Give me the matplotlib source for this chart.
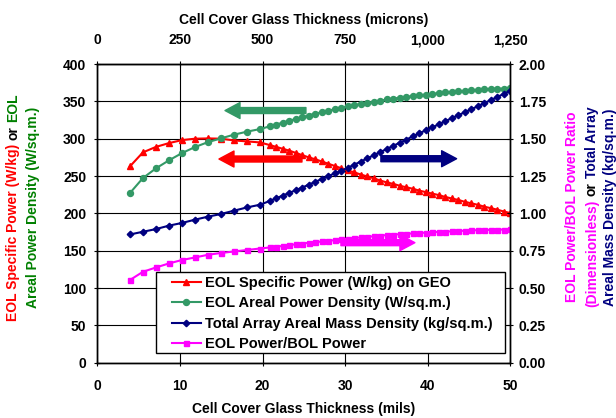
import numpy as np
import matplotlib.pyplot as plt
from matplotlib.patches import Rectangle
from matplotlib.ticker import MultipleLocator, FuncFormatter

plt.rcParams['font.family'] = ['Liberation Sans', 'DejaVu Sans']
plt.rcParams['font.weight'] = 'bold'
plt.rcParams['axes.labelweight'] = 'bold'
plt.rcParams['font.size'] = 10

# data: cover glass thickness (microns) and the four curves
thickness_um = [100, 140, 180, 220, 260, 300, 340, 380, 420, 460, 500,
                530, 550, 570, 590, 610, 630, 650, 670, 690, 710, 730, 750,
                770, 790, 810, 830, 850, 870, 890, 910, 930, 950, 970, 990,
                1010, 1030, 1050, 1070, 1090, 1110, 1130, 1150, 1170, 1190,
                1210, 1230, 1250, 1270]

specific_power = [262.9, 281.7, 289.0, 294.1, 298.1, 300.0, 300.4, 300.0, 297.7, 296.4, 295.0,
                  291.5, 289.0, 286.5, 284.0, 281.0, 278.0, 275.0, 272.5, 269.5, 266.5, 263.5, 260.5,
                  257.5, 255.0, 252.0, 249.5, 247.0, 244.0, 241.5, 239.5, 237.0, 235.0, 233.0, 230.5,
                  228.5, 226.5, 224.5, 222.0, 220.0, 218.0, 215.5, 213.5, 211.5, 209.0,
                  207.0, 205.0, 202.5, 200.5]

areal_power = [227.2, 247.3, 260.3, 271.0, 280.7, 288.8, 295.4, 300.4, 305.4, 309.4, 312.9,
               316.5, 319.0, 321.5, 324.0, 326.5, 329.0, 331.0, 333.5, 335.5, 337.5, 339.5, 341.5,
               343.5, 345.0, 346.5, 348.0, 349.5, 351.0, 352.5, 353.5, 355.0, 356.0, 357.0, 358.0,
               359.0, 360.0, 361.0, 362.0, 362.5, 363.5, 364.0, 365.0, 365.5, 366.0,
               366.5, 367.0, 367.0, 367.5]

mass_density = [0.859, 0.877, 0.895, 0.918, 0.936, 0.958, 0.978, 0.996, 1.018, 1.040, 1.058,
                1.083, 1.101, 1.119, 1.137, 1.155, 1.173, 1.192, 1.211, 1.230, 1.249, 1.268, 1.285,
                1.305, 1.326, 1.347, 1.368, 1.389, 1.410, 1.431, 1.452, 1.473, 1.494, 1.515, 1.536,
                1.556, 1.576, 1.596, 1.617, 1.637, 1.657, 1.677, 1.697, 1.717, 1.738,
                1.758, 1.779, 1.800, 1.820]

power_ratio = [0.554, 0.609, 0.638, 0.665, 0.688, 0.705, 0.723, 0.735, 0.745, 0.755, 0.765,
               0.772, 0.777, 0.782, 0.788, 0.793, 0.798, 0.803, 0.807, 0.812, 0.816, 0.821, 0.826,
               0.831, 0.835, 0.839, 0.843, 0.847, 0.851, 0.855, 0.858, 0.861, 0.864, 0.866, 0.869,
               0.871, 0.874, 0.876, 0.878, 0.880, 0.882, 0.884, 0.886, 0.888, 0.889,
               0.890, 0.891, 0.892, 0.893]

labels = ['EOL Specific Power (W/kg) on GEO',
          'EOL Areal Power Density (W/sq.m.)',
          'Total Array Areal Mass Density (kg/sq.m.)',
          'EOL Power/BOL Power']

RED, GREEN, NAVY, PINK = '#FF0000', '#339966', '#000080', '#FF00FF'
LBLGREEN = '#008000'

mils = np.array(thickness_um) / 25.4

W, H = 616, 418
fig = plt.figure(figsize=(W / 100, H / 100), dpi=100)
ax = fig.add_axes([97.4 / W, 1 - 362.8 / H, (510.3 - 97.4) / W, (362.8 - 64) / H])
ax2 = ax.twinx()

l1, = ax.plot(mils, specific_power, color=RED, marker='^', ms=4.6, lw=1.5, label=labels[0])
l2, = ax.plot(mils, areal_power, color=GREEN, marker='o', ms=4.3, lw=1.5, label=labels[1])
l3, = ax2.plot(mils, mass_density, color=NAVY, marker='D', ms=3.3, lw=1.5, label=labels[2])
l4, = ax2.plot(mils, power_ratio, color=PINK, marker='s', ms=3.6, lw=1.5, label=labels[3])

ax.set_xlim(0, 50)
ax.set_ylim(0, 400)
ax2.set_ylim(0, 2)
ax.xaxis.set_major_locator(MultipleLocator(10))
ax.yaxis.set_major_locator(MultipleLocator(50))
ax2.yaxis.set_major_locator(MultipleLocator(0.25))
ax2.yaxis.set_major_formatter(FuncFormatter(lambda v, p: f'{v:.2f}'))
ax.grid(True, color='black', lw=0.8)
ax.set_axisbelow(True)

for a in (ax, ax2):
    for s in a.spines.values():
        s.set_linewidth(1.0)

ax.tick_params(axis='x', direction='inout', length=5, width=0.8, pad=9)
ax.tick_params(axis='y', direction='inout', length=5, width=0.8, pad=5.5)
ax2.tick_params(axis='y', direction='inout', length=5, width=0.8, pad=3.5)

top = ax.secondary_xaxis('top', functions=(lambda m: m * 25, lambda u: u / 25))
top.xaxis.set_major_locator(MultipleLocator(250))
top.xaxis.set_major_formatter(FuncFormatter(lambda v, p: f'{int(v):,}'))
top.tick_params(direction='inout', length=5, width=0.8, pad=9.5)
top.set_xlabel('Cell Cover Glass Thickness (microns)', labelpad=7, fontweight='bold')
ax.set_xlabel('Cell Cover Glass Thickness (mils)', labelpad=7, fontweight='bold')

# direction arrows
arrow = dict(width=4.3, headwidth=11.5, headlength=10.8, shrink=0)
ax.annotate('', xy=(15.45, 337.7), xytext=(25.25, 337.7),
            arrowprops=dict(arrow, facecolor=GREEN, edgecolor=GREEN))
ax.annotate('', xy=(14.72, 272.8), xytext=(24.77, 272.8),
            arrowprops=dict(arrow, facecolor=RED, edgecolor=RED))
ax2.annotate('', xy=(43.5, 1.366), xytext=(34.33, 1.366),
             arrowprops=dict(arrow, facecolor=NAVY, edgecolor=NAVY))
ax2.annotate('', xy=(38.45, 0.804), xytext=(29.49, 0.804),
             arrowprops=dict(arrow, facecolor=PINK, edgecolor=PINK))

# legend box (wider horizontal padding than matplotlib's uniform borderpad)
ax2.add_patch(Rectangle((155.7 / W, 1 - 352.7 / H), (505 - 155.7) / W, (352.7 - 272.3) / H,
                        transform=fig.transFigure, facecolor='white', edgecolor='black',
                        lw=1.0, zorder=4.9, clip_on=False))
leg = ax2.legend([l1, l2, l3, l4], labels, loc='upper left',
                 bbox_to_anchor=(171.7 / W, 1 - 276 / H), bbox_transform=fig.transFigure,
                 borderaxespad=0, frameon=False, handlelength=2.0, handletextpad=0.25,
                 labelspacing=0.44, borderpad=0, numpoints=1, fontsize=10.5)


# multi-coloured rotated axis titles
def stacked_label(x_px, parts, yc_px=207):
    r = fig.canvas.get_renderer()
    sp = 10 * 0.278 * 100 / 72
    texts = [fig.text(0, 0, s, color=c, rotation=90, ha='center', va='bottom')
             for s, c in parts]
    hs = [t.get_window_extent(r).height for t in texts]
    y = (H - yc_px) - (sum(hs) + sp * (len(hs) - 1)) / 2
    for t, h in zip(texts, hs):
        t.set_position((x_px / W, y / H))
        y += h + sp


stacked_label(13.3, [('EOL Specific Power (W/kg)', RED), ('or', 'black'), ('EOL', LBLGREEN)])
stacked_label(33.3, [('Areal Power Density (W/sq.m.)', LBLGREEN)])
stacked_label(572, [('EOL Power/BOL Power Ratio', PINK)])
stacked_label(592, [('(Dimensionless)', PINK), ('or', 'black'), ('Total Array', NAVY)])
stacked_label(610, [('Areal Mass Density (kg/sq.m.)', NAVY)])

fig.savefig('out.png', dpi=100)
